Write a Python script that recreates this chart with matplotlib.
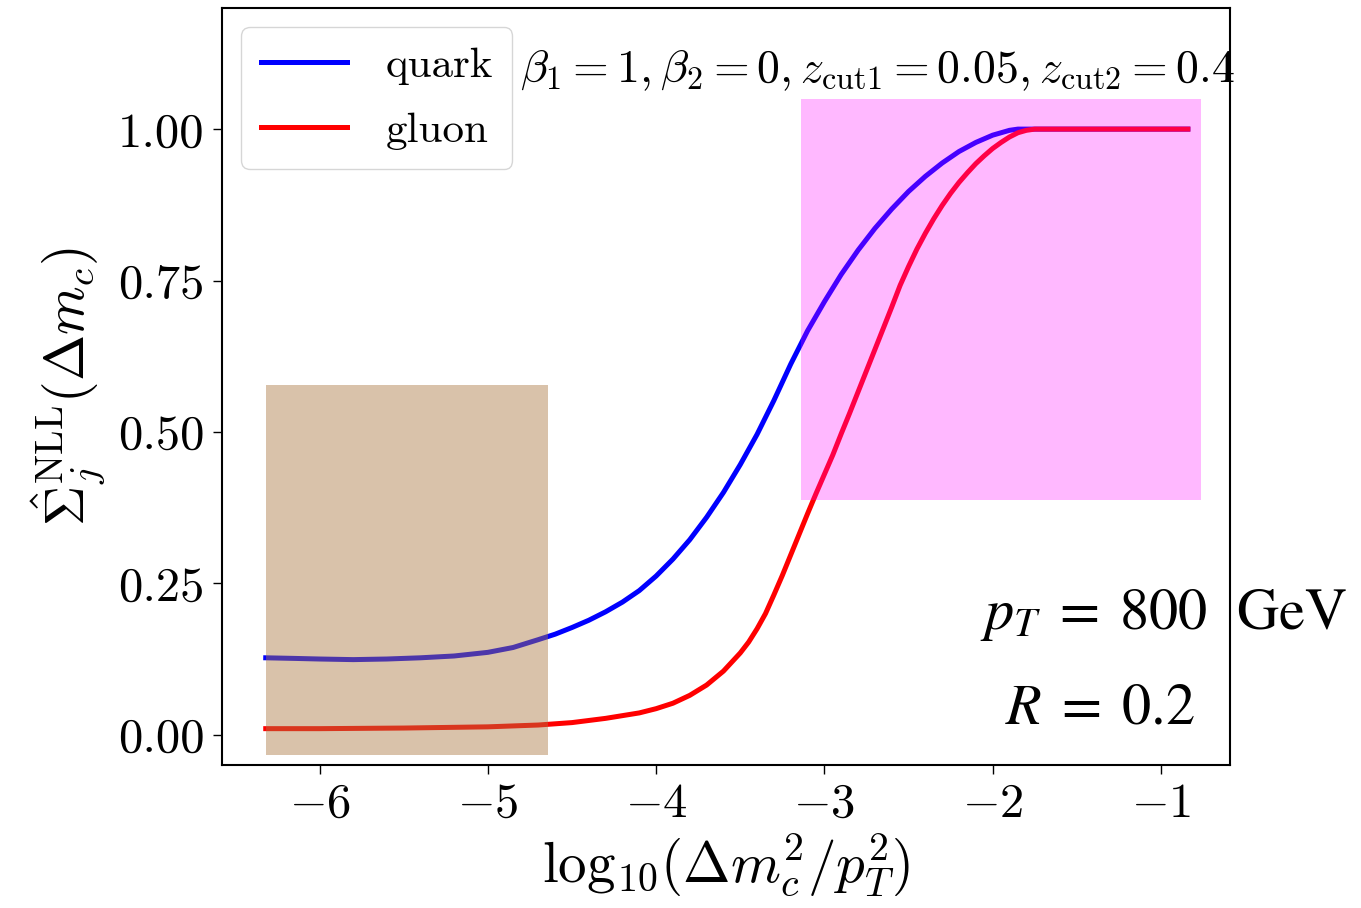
import matplotlib
matplotlib.use("Agg")
import matplotlib.pyplot as plt
from matplotlib.patches import Rectangle

plt.rcParams["font.family"] = "serif"
plt.rcParams["font.serif"] = ["cmr10", "DejaVu Serif"]
plt.rcParams["mathtext.fontset"] = "cm"
plt.rcParams["axes.formatter.use_mathtext"] = True
plt.rcParams["axes.unicode_minus"] = True

# NLL cumulative distributions vs log10(dm_c^2 / pT^2)
quark_x = [-6.32, -6.15, -6.00, -5.80, -5.60, -5.40, -5.20, -5.00, -4.85, -4.70,
           -4.60, -4.50, -4.40, -4.30, -4.20, -4.10, -4.00, -3.90, -3.80, -3.70,
           -3.60, -3.50, -3.40, -3.30, -3.20, -3.10, -3.00, -2.90, -2.80, -2.70,
           -2.60, -2.50, -2.40, -2.30, -2.20, -2.10, -2.00, -1.90, -1.85, -0.84]
quark_y = [0.127, 0.126, 0.125, 0.124, 0.125, 0.127, 0.130, 0.136, 0.144, 0.157,
           0.166, 0.177, 0.189, 0.203, 0.219, 0.238, 0.262, 0.290, 0.322, 0.359,
           0.400, 0.446, 0.496, 0.552, 0.612, 0.667, 0.715, 0.760, 0.800, 0.836,
           0.868, 0.897, 0.922, 0.944, 0.963, 0.978, 0.990, 0.998, 1.000, 1.000]

gluon_x = [-6.32, -6.00, -5.50, -5.00, -4.70, -4.50, -4.30, -4.10, -4.00, -3.90,
           -3.80, -3.70, -3.60, -3.50, -3.45, -3.40, -3.35, -3.30, -3.25, -3.20,
           -3.15, -3.10, -3.05, -3.00, -2.95, -2.90, -2.85, -2.80, -2.75, -2.70,
           -2.65, -2.60, -2.55, -2.50, -2.45, -2.40, -2.35, -2.30, -2.25, -2.20,
           -2.15, -2.10, -2.05, -2.00, -1.95, -1.90, -1.85, -1.80, -1.75, -0.84]
gluon_y = [0.010, 0.010, 0.011, 0.013, 0.016, 0.020, 0.027, 0.036, 0.043, 0.052,
           0.065, 0.082, 0.105, 0.135, 0.153, 0.175, 0.200, 0.231, 0.263, 0.297,
           0.331, 0.365, 0.398, 0.430, 0.462, 0.497, 0.531, 0.566, 0.601, 0.636,
           0.671, 0.706, 0.742, 0.773, 0.802, 0.828, 0.852, 0.874, 0.894, 0.912,
           0.928, 0.943, 0.956, 0.968, 0.978, 0.987, 0.994, 0.998, 1.000, 1.000]

# shaded regions: (x0, x1, y0, y1)
region_low = (-6.32, -4.64, -0.033, 0.578)
region_high = (-3.14, -0.76, 0.388, 1.05)

xticks = [-6, -5, -4, -3, -2, -1]
yticks = [0.00, 0.25, 0.50, 0.75, 1.00]

fig = plt.figure(figsize=(13.61, 9.08), dpi=100)
ax = fig.add_axes([0.1631, 0.1575, 0.7406, 0.8337])

ax.plot(quark_x, quark_y, color="blue", lw=3.6, label="quark", zorder=2,
        solid_joinstyle="round")
ax.plot(gluon_x, gluon_y, color="red", lw=3.6, label="gluon", zorder=2,
        solid_joinstyle="round")

for (x0, x1, y0, y1), col, a in [(region_low, "#AB7843", 0.45),
                                 (region_high, "magenta", 0.28)]:
    ax.add_patch(Rectangle((x0, y0), x1 - x0, y1 - y0, facecolor=col,
                           edgecolor="none", alpha=a, zorder=3))

ax.set_xlim(-6.58, -0.59)
ax.set_ylim(-0.05, 1.2)
ax.set_xticks(xticks)
ax.set_yticks(yticks)
ax.set_yticklabels([f"{v:.2f}" for v in yticks])
ax.tick_params(labelsize=35, length=6.5, width=1.0, direction="out", pad=6)
for s in ax.spines.values():
    s.set_linewidth(1.5)

ax.set_xlabel(r"$\mathrm{log}_{10}(\Delta m_c^2/p_T^2)$", fontsize=41, labelpad=3)
ax.set_ylabel(r"$\hat{\Sigma}_j^{\rm NLL}(\Delta m_c)$", fontsize=40, labelpad=8)

leg = ax.legend(loc="upper left", fontsize=31, handlelength=2.0,
                borderaxespad=0.45, framealpha=0.8, borderpad=0.45,
                labelspacing=0.62, handletextpad=0.9)
leg.set_zorder(5)

ax.text(-4.81, 1.097,
        r"$\beta_1=1,\beta_2=0,z_{\rm cut1}=0.05,z_{\rm cut2}=0.4$",
        fontsize=33, ha="left", va="center", zorder=6)

ax.text(0.7516, 0.198, r"$p_T\;=\;800$  GeV", transform=ax.transAxes,
        fontsize=42, family="STIXGeneral", math_fontfamily="stix",
        ha="left", va="center", clip_on=False, zorder=6)
ax.text(0.7764, 0.072, r"$R\;=\;0.2$", transform=ax.transAxes,
        fontsize=42, family="STIXGeneral", math_fontfamily="stix",
        ha="left", va="center", clip_on=False, zorder=6)

fig.savefig("out.png", dpi=100)
